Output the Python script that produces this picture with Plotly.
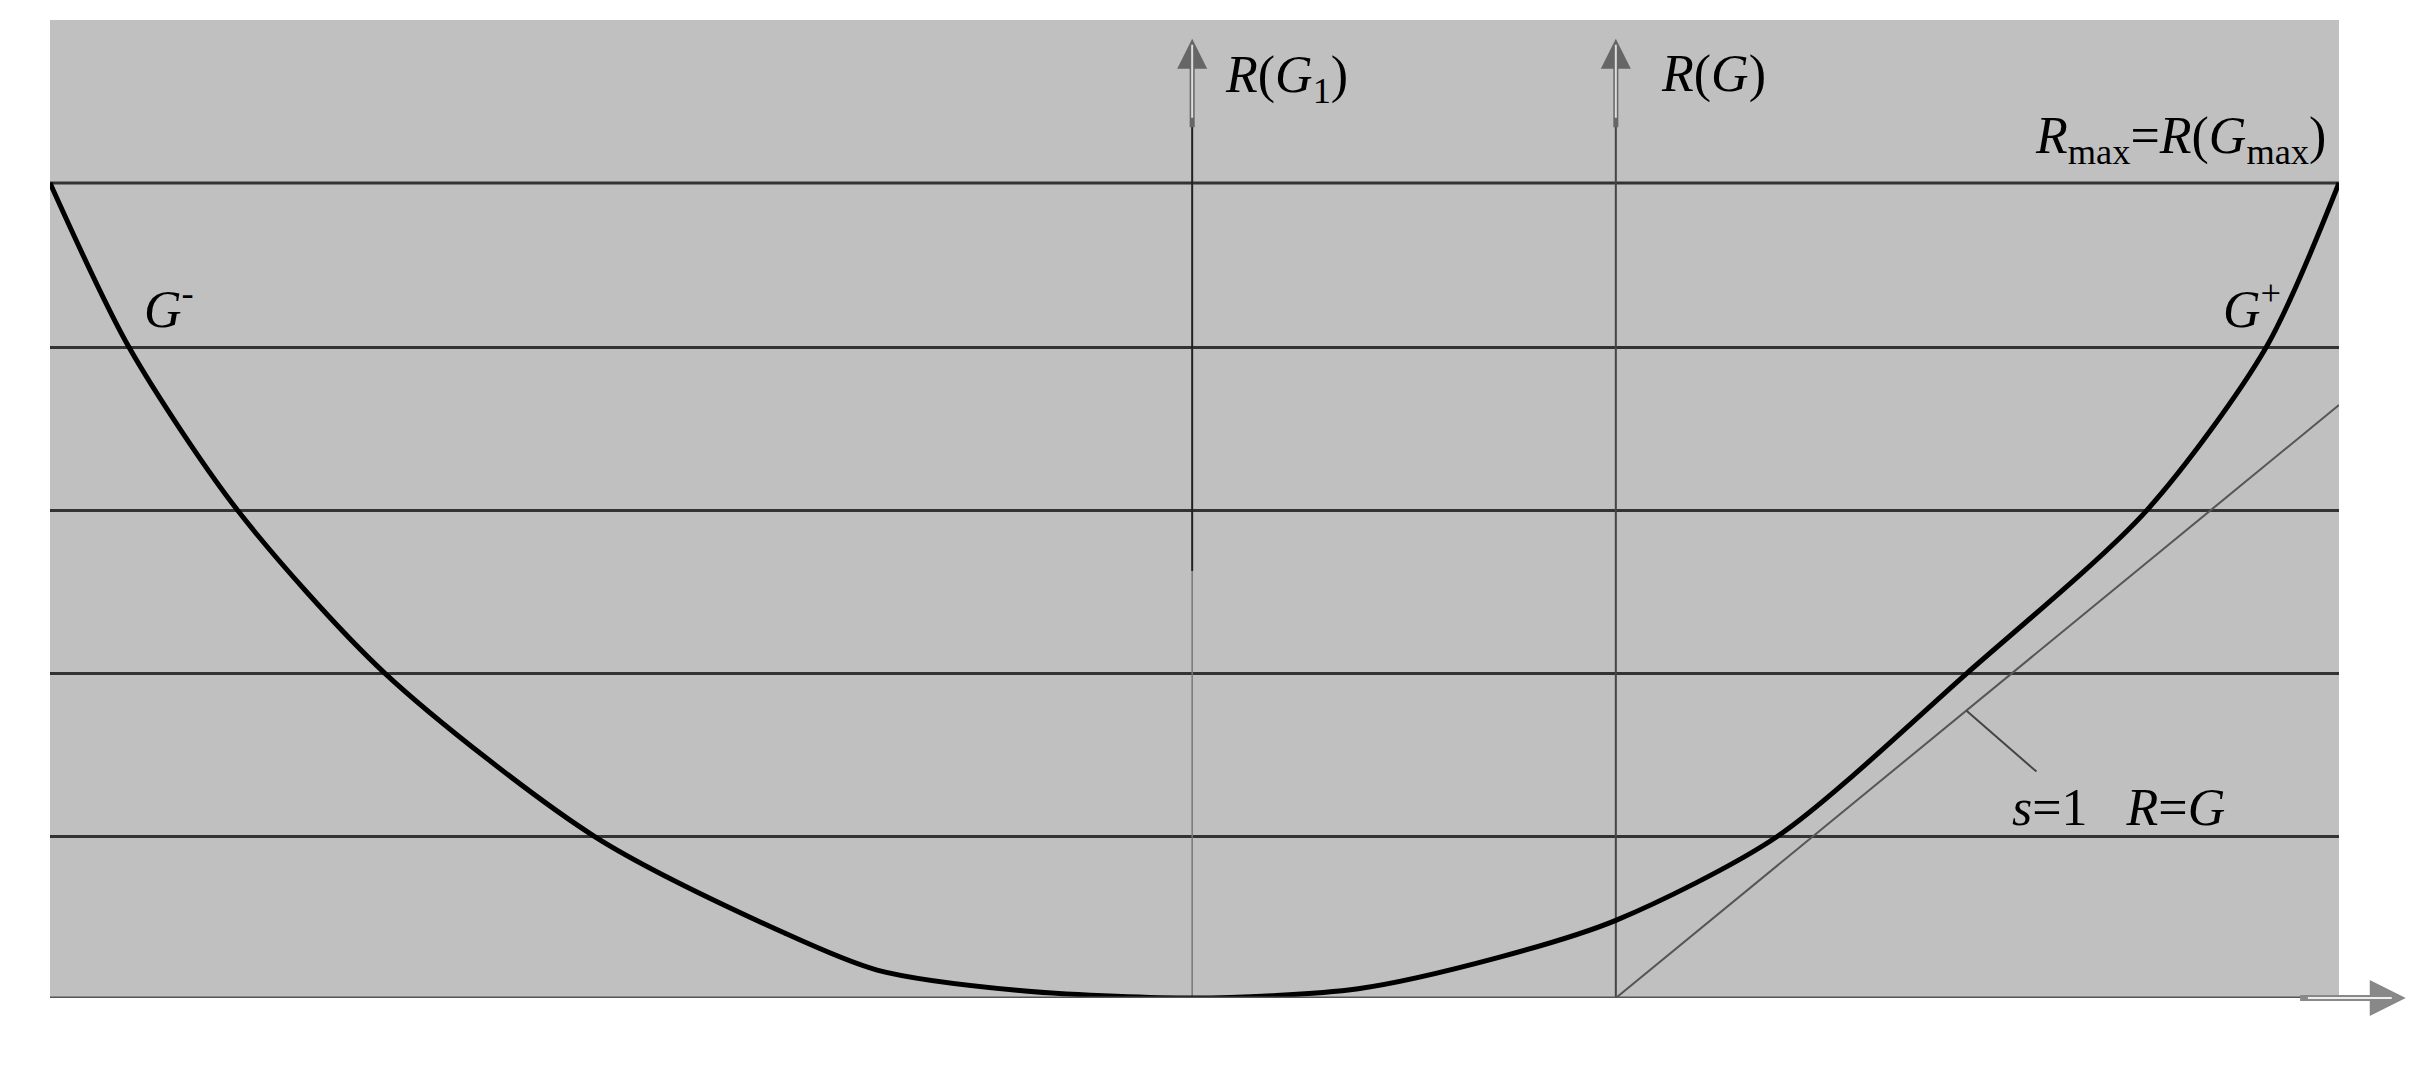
import plotly.graph_objects as go

# curve R(G) (G: 0 at the R axis, R: 0 at the bottom line)
curve_g = [-10.09, -9.58, -8.88, -7.93, -6.58, -5.36, -4.76, -3.86, -2.73, -1.66, -0.76, 0.0, 1.04, 2.26, 3.42, 4.19, 4.66]
curve_r = [5.25, 4.19, 3.14, 2.09, 1.04, 0.42, 0.18, 0.05, 0.0, 0.06, 0.26, 0.50, 1.04, 2.09, 3.14, 4.19, 5.25]

# horizontal grid levels, R_max is the top one
levels = [1.04, 2.09, 3.14, 4.19, 5.25]

# tangent line s=1, R=G
tangent_g = [0.0, 4.66]
tangent_r = [0.0, 3.82]

g_a, g_c, g_0, g_b = -10.09, -2.73, 0.0, 4.66
r_top = 6.30

serif = "Liberation Serif"
fig = go.Figure()

for lv in levels:
    fig.add_trace(go.Scatter(x=[g_a, g_b], y=[lv, lv], mode="lines",
                             line=dict(color="#333333", width=3), hoverinfo="skip"))

# vertical axes at c and at 0
fig.add_trace(go.Scatter(x=[g_c, g_c], y=[0, 2.75], mode="lines",
                         line=dict(color="#777777", width=1.5), hoverinfo="skip"))
fig.add_trace(go.Scatter(x=[g_c, g_c], y=[2.75, 5.9], mode="lines",
                         line=dict(color="#222222", width=2), hoverinfo="skip"))
fig.add_trace(go.Scatter(x=[g_0, g_0], y=[0, 5.9], mode="lines",
                         line=dict(color="#444444", width=2), hoverinfo="skip"))

fig.add_trace(go.Scatter(x=tangent_g, y=tangent_r, mode="lines",
                         line=dict(color="#555555", width=2), hoverinfo="skip"))

fig.add_trace(go.Scatter(x=curve_g, y=curve_r, mode="lines",
                         line=dict(color="black", width=5, shape="spline", smoothing=0.8),
                         hoverinfo="skip"))

# bottom axis line
fig.add_trace(go.Scatter(x=[g_a, g_b], y=[0, 0], mode="lines",
                         line=dict(color="#555555", width=3), hoverinfo="skip"))

fig.update_layout(
    width=2433, height=1091,
    margin=dict(l=42, r=102, t=12, b=101),
    paper_bgcolor="white", plot_bgcolor="#c0c0c0",
    showlegend=False,
    xaxis=dict(range=[g_a, g_b], visible=False, showgrid=False, zeroline=False),
    yaxis=dict(range=[0, r_top], visible=False, showgrid=False, zeroline=False),
)

lab = dict(family=serif, size=52, color="black")
notes = [
    (g_c + 0.2, 5.92, "<i>R</i>(<i>G</i><sub>1</sub>)", "left"),
    (g_0 + 0.28, 5.95, "<i>R</i>(<i>G</i>)", "left"),
    (4.59, 5.53, "<i>R</i><sub>max</sub>=<i>R</i>(<i>G</i><sub>max</sub>)", "right"),
    (-9.5, 4.46, "<i>G</i><sup>-</sup>", "left"),
    (4.3, 4.46, "<i>G</i><sup>+</sup>", "right"),
    (2.54, 1.23, "<i>s</i>=1   <i>R</i>=<i>G</i>", "left"),
    (g_a, -0.5, "<i>a</i>", "center"),
    (g_c, -0.5, "<i>c</i>", "center"),
    (g_0, -0.5, "0", "center"),
    (g_b - 0.05, -0.52, "<i>b</i>", "center"),
    (5.1, 0.1, "<i>G</i>", "center"),
]
for x, y, t, anc in notes:
    fig.add_annotation(x=x, y=y, text=t, showarrow=False, xanchor=anc,
                       font=lab)

# hollow-looking arrow heads on the axes
for gx in [g_c, g_0]:
    fig.add_annotation(x=gx, y=6.18, ax=gx, ay=5.6, xref="x", yref="y", axref="x", ayref="y",
                       showarrow=True, arrowhead=2, arrowsize=1.2, arrowwidth=5,
                       arrowcolor="#666666", text="")
    fig.add_annotation(x=gx, y=6.14, ax=gx, ay=5.66, xref="x", yref="y", axref="x", ayref="y",
                       showarrow=True, arrowhead=0, arrowwidth=2,
                       arrowcolor="#dddddd", text="")
fig.add_annotation(x=5.09, y=0, ax=4.4, ay=0, xref="x", yref="y", axref="x", ayref="y",
                   showarrow=True, arrowhead=2, arrowsize=1.2, arrowwidth=6,
                   arrowcolor="#888888", text="")
fig.add_annotation(x=5.0, y=0, ax=4.45, ay=0, xref="x", yref="y", axref="x", ayref="y",
                   showarrow=True, arrowhead=0, arrowwidth=2,
                   arrowcolor="#eeeeee", text="")

# leader line to the s=1 label
fig.add_annotation(x=2.26, y=1.85, ax=2.72, ay=1.45, xref="x", yref="y", axref="x", ayref="y",
                   showarrow=True, arrowhead=0, arrowwidth=2, arrowcolor="#444444", text="")

fig.write_html("out.html")
